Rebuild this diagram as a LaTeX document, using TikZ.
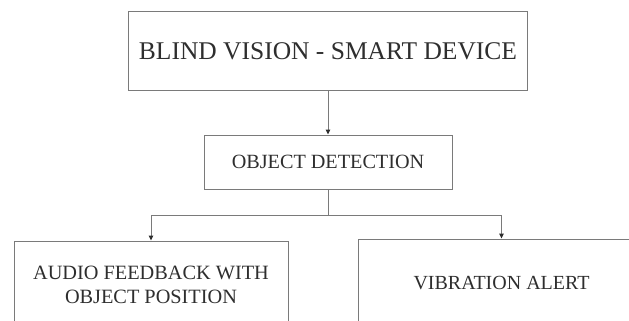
\documentclass[tikz,border=0pt]{standalone}
\usepackage{fontspec}
\setmainfont{Liberation Serif}
\usetikzlibrary{arrows.meta}
\definecolor{linegray}{HTML}{7A7A7A}
\definecolor{textgray}{HTML}{2E2E2E}
\tikzset{
  boxnode/.style={draw=linegray, line width=1pt, rectangle, inner sep=0pt, text=textgray, align=center},
  conn/.style={draw=linegray, line width=1pt},
  arr/.style={conn, -{Triangle[width=4.5pt,length=5pt,fill=textgray,color=textgray]}}
}
\begin{document}
\begin{tikzpicture}[x=1pt,y=-1pt]
\clip (0,0) rectangle (629,321);
\node[boxnode, minimum width=399pt, minimum height=79pt, font=\fontsize{25.5}{30}\selectfont] (top) at (328,51.2) {BLIND VISION - SMART DEVICE};
\node[boxnode, minimum width=248pt, minimum height=54pt, font=\fontsize{20.2}{24}\selectfont] (od) at (328,162) {OBJECT DETECTION};
\node[boxnode, minimum width=274pt, minimum height=87pt, font=\fontsize{20.3}{24}\selectfont] (left) at (151,284.5) {AUDIO FEEDBACK WITH\\OBJECT POSITION};
\node[boxnode, minimum width=287pt, minimum height=89pt, font=\fontsize{20}{24}\selectfont] (right) at (501.5,283.5) {VIBRATION ALERT};
\coordinate (j) at (328,215);
\draw[arr] (top.south) -- (od.north);
\draw[conn] (od.south) -- (j);
\draw[arr] (j) -| (left.north);
\draw[arr] (j) -| (right.north);
\end{tikzpicture}
\end{document}
